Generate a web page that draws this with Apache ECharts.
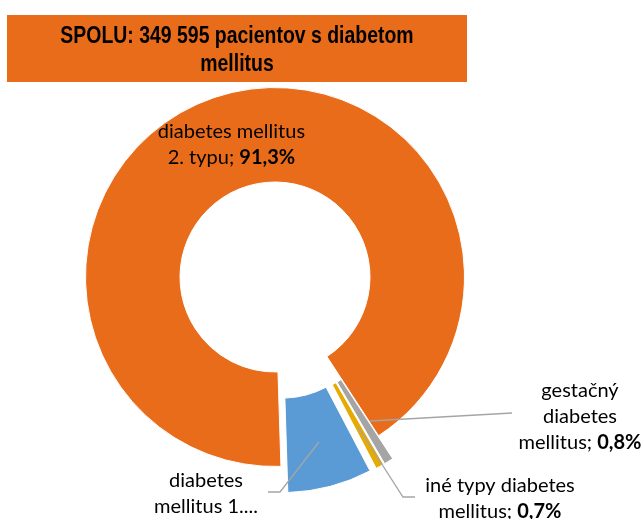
<!DOCTYPE html>
<html>
<head>
<meta charset="utf-8">
<script src="https://cdn.jsdelivr.net/npm/echarts@6/dist/echarts.min.js"></script>
<style>
html,body{margin:0;padding:0;background:#fff;}
#c{width:643px;height:519px;}
</style>
</head>
<body>
<div id="c"></div>
<script>
// --- data ---
const categories = ['diabetes mellitus 2. typu', 'gestačný diabetes mellitus', 'iné typy diabetes mellitus', 'diabetes mellitus 1. typu'];
const values = [91.3, 0.8, 0.7, 7.2];
const labelTexts = ['diabetes mellitus\n2. typu; ', 'gestačný\ndiabetes\nmellitus; ', 'iné typy diabetes\nmellitus; ', 'diabetes\nmellitus 1....'];
const showPct = [true, true, true, false];
const colors = ['#E96C1B', '#A5A5A5', '#E6AA00', '#5B9BD5'];
const exploded = [false, true, true, true];
const titleText = 'SPOLU: 349 595 pacientov s diabetom\nmellitus';

const chart = echarts.init(document.getElementById('c'), null, {renderer: 'canvas'});

function fmtPct(v) { return v.toFixed(1).replace('.', ',') + '%'; }
function labelOf(i) { return labelTexts[i] + (showPct[i] ? '{b|' + fmtPct(values[i]) + '}' : ''); }

const labelFont = 'Lato, Carlito, Calibri, sans-serif';
const labelSize = 20;
const richB = {b: {fontWeight: 'bold', fontFamily: labelFont, fontSize: labelSize, fill: '#000', color: '#000', lineHeight: 26}};

// annotation anchors and leader lines for the small (exploded) slices
const labelPos = [null, [580, 417], [500, 499], [206, 494]];
const leader = [null,
  [[370, 421], [512, 413]],
  [[358, 427], [403, 497], [415, 497]],
  [[319, 442], [280, 492], [268, 492]]
];

const data = categories.map((c, i) => ({
  name: c,
  value: values[i],
  selected: exploded[i],
  itemStyle: {color: colors[i]},
  label: {show: i === 0, position: 'inside', formatter: labelOf(i)},
  labelLine: {show: false}
}));

const graphics = [
  {type: 'rect', shape: {x: 7, y: 15, width: 460, height: 67}, style: {fill: '#E96C1B'}, z: 0},
  {type: 'text', x: 237, y: 50, scaleX: 0.81, style: {
    text: titleText, fill: '#000', align: 'center', verticalAlign: 'middle',
    font: 'bold 24px "Liberation Sans", Arial, sans-serif', lineHeight: 28
  }, z: 1}
];
for (let i = 1; i < categories.length; i++) {
  graphics.push({type: 'polyline', shape: {points: leader[i]}, style: {stroke: '#A5A5A5', lineWidth: 1.3, fill: null}, z: 5});
  graphics.push({type: 'text', x: labelPos[i][0], y: labelPos[i][1], style: {
    text: labelOf(i), fill: '#000', align: 'center', verticalAlign: 'middle',
    font: labelSize + 'px ' + labelFont, lineHeight: 26, rich: richB
  }, z: 5});
}

chart.setOption({
  animation: false,
  graphic: graphics,
  series: [{
    type: 'pie',
    center: [275, 277],
    radius: [95, 189.5],
    startAngle: 271.8,
    clockwise: true,
    selectedMode: 'multiple',
    selectedOffset: 27,
    avoidLabelOverlap: false,
    itemStyle: {borderColor: '#fff', borderWidth: 1},
    emphasis: {disabled: true},
    label: {
      color: '#000',
      fontFamily: labelFont,
      fontSize: labelSize,
      lineHeight: 26,
      align: 'center',
      rich: richB
    },
    labelLayout: function (p) {
      return p.dataIndex === 0 ? {dy: 6} : {};
    },
    data: data
  }]
});
</script>
</body>
</html>
